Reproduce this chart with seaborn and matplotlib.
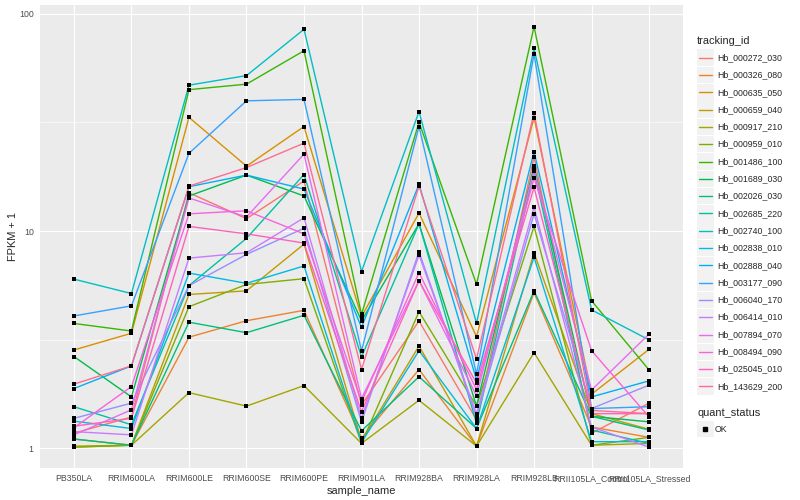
import numpy as np
import pandas as pd
import matplotlib
matplotlib.use("Agg")
import matplotlib.pyplot as plt
import seaborn as sns
from matplotlib.patches import Rectangle
from matplotlib.lines import Line2D
from matplotlib.ticker import FixedLocator, NullFormatter

samples = ["PB350LA", "RRIM600LA", "RRIM600LE", "RRIM600SE", "RRIM600PE", "RRIM901LA",
           "RRIM928BA", "RRIM928LA", "RRIM928LB", "RRII105LA_Control", "RRII105LA_Stressed"]

tracking_ids = ["Hb_000272_030", "Hb_000326_080", "Hb_000635_050", "Hb_000659_040",
                "Hb_000917_210", "Hb_000959_010", "Hb_001486_100", "Hb_001689_030",
                "Hb_002026_030", "Hb_002685_220", "Hb_002740_100", "Hb_002838_010",
                "Hb_002888_040", "Hb_003177_090", "Hb_006040_170", "Hb_006414_010",
                "Hb_007894_070", "Hb_008494_090", "Hb_025045_010", "Hb_143629_200"]

# FPKM + 1, one list per gene, in the order of samples
hb_000272_030 = [1.17, 1.39, 15.0, 11.4, 17.0, 1.58, 3.85, 1.35, 21.9, 1.17, 1.61]
hb_000326_080 = [1.10, 1.03, 3.24, 3.86, 4.31, 1.11, 2.30, 1.02, 5.20, 1.25, 1.12]
hb_000635_050 = [2.83, 3.38, 33.4, 19.9, 30.3, 4.03, 12.1, 3.26, 33.3, 1.77, 2.85]
hb_000659_040 = [1.02, 1.03, 5.10, 5.30, 8.70, 1.08, 2.95, 1.02, 7.94, 1.44, 1.22]
hb_000917_210 = [1.01, 1.03, 1.80, 1.56, 1.94, 1.05, 1.66, 1.02, 2.75, 1.03, 1.05]
hb_000959_010 = [1.01, 1.03, 4.48, 5.67, 6.03, 1.05, 4.25, 1.56, 10.5, 1.03, 1.12]
hb_001486_100 = [3.75, 3.46, 44.8, 47.5, 67.7, 4.13, 31.7, 5.68, 87.4, 4.77, 2.29]
hb_001689_030 = [2.64, 1.72, 14.5, 18.1, 14.5, 3.86, 10.8, 1.56, 20.0, 1.40, 1.32]
hb_002026_030 = [1.10, 1.03, 3.80, 3.40, 4.09, 1.20, 2.13, 1.23, 5.30, 1.40, 1.21]
hb_002685_220 = [1.55, 1.28, 5.60, 9.25, 18.2, 2.63, 10.8, 1.30, 19.0, 1.21, 1.05]
hb_002740_100 = [6.00, 5.15, 47.0, 52.0, 85.0, 6.50, 35.5, 3.75, 69.5, 4.33, 3.15]
hb_002838_010 = [1.33, 1.23, 6.40, 5.74, 6.90, 1.06, 2.81, 1.23, 7.57, 1.07, 1.07]
hb_002888_040 = [1.88, 2.39, 16.0, 18.1, 15.6, 3.60, 16.4, 2.06, 23.2, 1.72, 2.04]
hb_003177_090 = [4.06, 4.52, 22.8, 39.8, 40.4, 2.80, 30.3, 2.19, 65.4, 1.52, 1.55]
hb_006040_170 = [1.37, 1.61, 5.60, 7.80, 10.3, 1.32, 8.03, 1.39, 12.0, 1.52, 1.95]
hb_006414_010 = [1.19, 1.15, 7.50, 7.94, 11.5, 1.37, 7.75, 1.44, 12.9, 1.25, 1.01]
hb_007894_070 = [1.15, 1.50, 14.2, 11.6, 22.6, 1.69, 5.90, 1.74, 19.1, 1.85, 3.35]
hb_008494_090 = [1.24, 1.92, 12.0, 12.4, 9.70, 1.63, 6.43, 1.86, 17.5, 2.81, 1.39]
hb_025045_010 = [1.26, 1.37, 10.5, 9.70, 8.80, 1.47, 5.90, 1.99, 15.9, 1.44, 1.44]
hb_143629_200 = [1.97, 2.39, 16.1, 19.6, 25.4, 2.30, 16.1, 2.57, 35.1, 1.49, 1.44]

series = [hb_000272_030, hb_000326_080, hb_000635_050, hb_000659_040, hb_000917_210,
          hb_000959_010, hb_001486_100, hb_001689_030, hb_002026_030, hb_002685_220,
          hb_002740_100, hb_002838_010, hb_002888_040, hb_003177_090, hb_006040_170,
          hb_006414_010, hb_007894_070, hb_008494_090, hb_025045_010, hb_143629_200]

# ggplot2 default hue palette for 20 levels
colors = ["#F8766D", "#EA8331", "#D89000", "#C09B00", "#A3A500", "#7CAE00", "#39B600",
          "#00BB4E", "#00BF7D", "#00C1A3", "#00BFC4", "#00BAE0", "#00B0F6", "#35A2FF",
          "#9590FF", "#C77CFF", "#E76BF3", "#FA62DB", "#FF62BC", "#FF6C91"]

rows = []
for tid, vals in zip(tracking_ids, series):
    for i, (s, v) in enumerate(zip(samples, vals)):
        rows.append({"tracking_id": tid, "sample_name": s, "pos": i, "fpkm": v, "quant_status": "OK"})
df = pd.DataFrame(rows)

sns.set_style("darkgrid")
plt.rcParams['font.family'] = ['Liberation Sans', 'DejaVu Sans']

fig = plt.figure(figsize=(8, 5), dpi=100)
ax = fig.add_axes([40 / 800, 1 - 468 / 500, (683 - 40) / 800, (468 - 5) / 500])

sns.lineplot(data=df, x="pos", y="fpkm", hue="tracking_id", hue_order=tracking_ids,
             palette=colors, units="tracking_id", estimator=None, sort=False,
             lw=1.0, legend=False, ax=ax)
sns.scatterplot(data=df, x="pos", y="fpkm", color="black", s=11, marker="s",
                linewidth=0, legend=False, ax=ax, zorder=3)

ax.set_yscale("log")
ax.set_ylim(0.809, 110)
ax.set_xlim(-0.59, len(samples) - 1 + 0.59)
ax.set_facecolor("#EBEBEB")
for sp in ax.spines.values():
    sp.set_visible(False)

ax.set_xticks(range(len(samples)))
ax.set_xticklabels(samples)
ax.yaxis.set_major_locator(FixedLocator([1, 10, 100]))
ax.yaxis.set_major_formatter(plt.FixedFormatter(["1", "10", "100"]))
ax.yaxis.set_minor_locator(FixedLocator([10 ** 0.5, 10 ** 1.5]))
ax.yaxis.set_minor_formatter(NullFormatter())
ax.grid(True, which="major", color="white", lw=0.8)
ax.grid(True, which="minor", axis="y", color="white", lw=0.4)
ax.set_axisbelow(True)
ax.tick_params(axis="both", which="major", length=2.5, width=0.6, color="#333333",
               labelsize=6.3, labelcolor="#4D4D4D", pad=2)
ax.tick_params(axis="y", which="minor", length=0)
ax.set_xlabel("sample_name", fontsize=7.9, labelpad=2)
ax.set_ylabel("FPKM + 1", fontsize=7.9, labelpad=1)


def fx(px):
    return px / 800


def fy(py):
    return 1 - py / 500


# legend: tracking_id
fig.text(fx(697), fy(41), "tracking_id", fontsize=7.9, va="center", ha="left")
for i, (tid, c) in enumerate(zip(tracking_ids, colors)):
    yc = 57.7 + i * 17.3
    fig.patches.append(Rectangle((fx(697), fy(yc + 8.3)), 16.5 / 800, 16.6 / 500,
                                 transform=fig.transFigure, facecolor="#F2F2F2",
                                 edgecolor="none"))
    fig.lines.append(Line2D([fx(698.5), fx(712)], [fy(yc), fy(yc)], color=c, lw=1.0,
                            transform=fig.transFigure))
    fig.text(fx(717), fy(yc), tid, fontsize=6.3, va="center", ha="left")

# legend: quant_status
fig.text(fx(697), fy(413), "quant_status", fontsize=7.9, va="center", ha="left")
fig.patches.append(Rectangle((fx(697), fy(429 + 8.3)), 16.5 / 800, 16.6 / 500,
                             transform=fig.transFigure, facecolor="#F2F2F2",
                             edgecolor="none"))
fig.lines.append(Line2D([fx(705.2)], [fy(429)], marker="s", markersize=2.8, color="black",
                        lw=0, transform=fig.transFigure))
fig.text(fx(715), fy(429), "OK", fontsize=6.3, va="center", ha="left")

fig.savefig("out.png", dpi=100, facecolor="white")
